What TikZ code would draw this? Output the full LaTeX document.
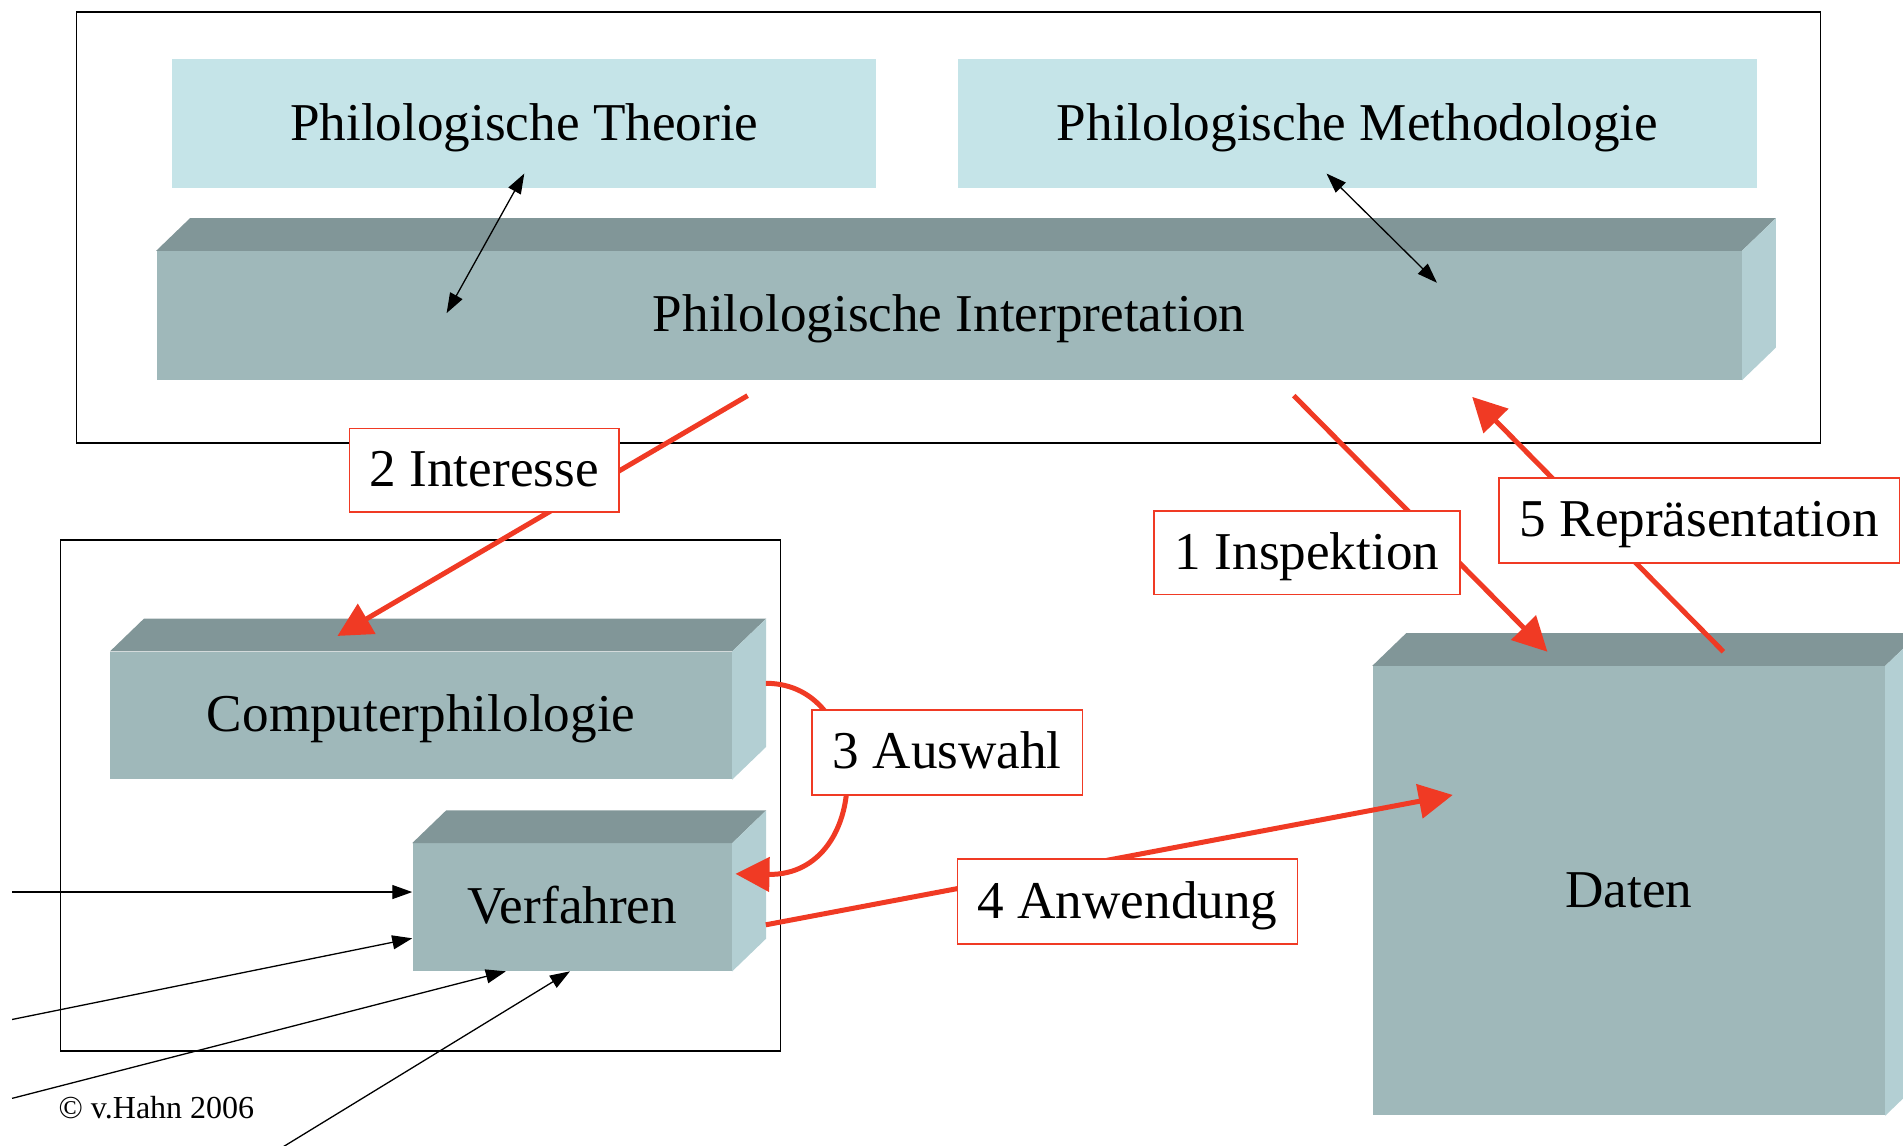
\documentclass[tikz,border=0pt]{standalone}
\usepackage{fontspec}
\setmainfont{Liberation Serif}
\usetikzlibrary{arrows.meta}

\definecolor{lightbox}{RGB}{197,228,232}
\definecolor{frontc}{RGB}{159,184,186}
\definecolor{topc}{RGB}{129,150,152}
\definecolor{sidec}{RGB}{179,207,211}
\definecolor{redc}{RGB}{240,58,36}

\tikzset{
  txt/.style={text height=18.1pt, text depth=1.8pt},
  flatbox/.style={fill=lightbox, inner sep=0pt, txt},
  frontbox/.style={fill=frontc, inner sep=0pt, txt},
  boxsize/.style 2 args={minimum width=#1*0.607pt, minimum height=#2*0.607pt},
  lbl/.style={draw=redc, fill=white, line width=0.8pt, inner sep=0pt, txt},
  redarrow/.style={draw=redc, line width=2.5pt, -{Triangle[length=17pt,width=17pt]}},
  blackarrow/.style={line width=0.65pt, -{Triangle[length=10pt,width=7pt]}},
  twoway/.style={line width=0.65pt, {Triangle[length=10pt,width=7pt]}-{Triangle[length=10pt,width=7pt]}}
}

\begin{document}
\begin{tikzpicture}[x=0.607pt, y=-0.607pt, font=\fontsize{26.6}{30}\selectfont]
        \useasboundingbox (0,0) rectangle (1568,944);
        % Frames
        \draw[line width=0.8pt] (63,10) rectangle (1500,365);
        \draw[line width=0.8pt] (50,445) rectangle (643,866);
        % Boxes
        \node[flatbox, boxsize={580}{106}] (theorie) at (432,102) {Philologische Theorie};
        \node[flatbox, boxsize={659}{106}] (methodik) at (1118.5,102) {Philologische Methodologie};
        \node[frontbox, boxsize={1306}{106}] (interp) at (782,260) {Philologische Interpretation};
        \node[frontbox, boxsize={512}{105}] (comp) at (347,589.5) {Computerphilologie};
        \node[frontbox, boxsize={263}{105}] (verf) at (471.5,747.5) {Verfahren};
        \node[frontbox, boxsize={422}{370}] (daten) at (1342,734) {Daten};
        % 3D faces
        \foreach \n in {interp,comp,verf,daten} {
          \fill[topc] (\n.north west) -- ++(28,-27) -- ([shift={(28,-27)}]\n.north east) -- (\n.north east) -- cycle;
          \fill[sidec] (\n.north east) -- ++(28,-27) -- ([shift={(28,-27)}]\n.south east) -- (\n.south east) -- cycle;
        }
        % Black arrows
        \coordinate (thA) at (432,143);
        \coordinate (thB) at (368,258);
        \coordinate (meA) at (1093,143);
        \coordinate (meB) at (1184,233);
        \draw[twoway] (thA) -- (thB);
        \draw[twoway] (meA) -- (meB);
        \coordinate (in1) at (10,735);
        \coordinate (in2) at (10,840);
        \coordinate (in3) at (10,905);
        \coordinate (in4) at (225,950);
        \draw[blackarrow] (in1) -- (in1 -| verf.west);
        \draw[blackarrow] (in2) -- (verf.191.4);
        \draw[blackarrow] (in3) -- (verf.224.5);
        \draw[blackarrow] (in4) -- (verf.268.4);
        % Red arrows
        \coordinate (intA) at (616,326);
        \coordinate (intB) at (278,524);
        \coordinate (insA) at (1066,326);
        \coordinate (insB) at (1275,537);
        \coordinate (repA) at (1420,537);
        \coordinate (repB) at (1213,327);
        \coordinate (ausA) at (631,563);
        \coordinate (ausB) at (606,720);
        \coordinate (anwA) at (631,762);
        \coordinate (anwB) at (1197,655);
        \draw[redarrow] (intA) -- (intB);
        \draw[redarrow] (insA) -- (insB);
        \draw[redarrow] (repA) -- (repB);
        \draw[redarrow] (ausA) .. controls (720,563) and (720,722) .. (ausB);
        \draw[redarrow] (anwA) -- (anwB);
        % Labels
        \node[lbl, boxsize={222}{69}] (interesse) at (399,387.5) {2 Interesse};
        \node[lbl, boxsize={252}{69}] (inspektion) at (1077,455.5) {1 Inspektion};
        \node[lbl, boxsize={330}{70}] (repraes) at (1400,429) {5 Repräsentation};
        \node[lbl, boxsize={223}{70}] (auswahl) at (780.5,620) {3 Auswahl};
        \node[lbl, boxsize={280}{70}] (anwendung) at (929,743) {4 Anwendung};
        \node[anchor=west, inner sep=0pt, font=\fontsize{16}{18}\selectfont] (copy) at (48,913) {© v.Hahn 2006};
    \end{tikzpicture}
\end{document}
